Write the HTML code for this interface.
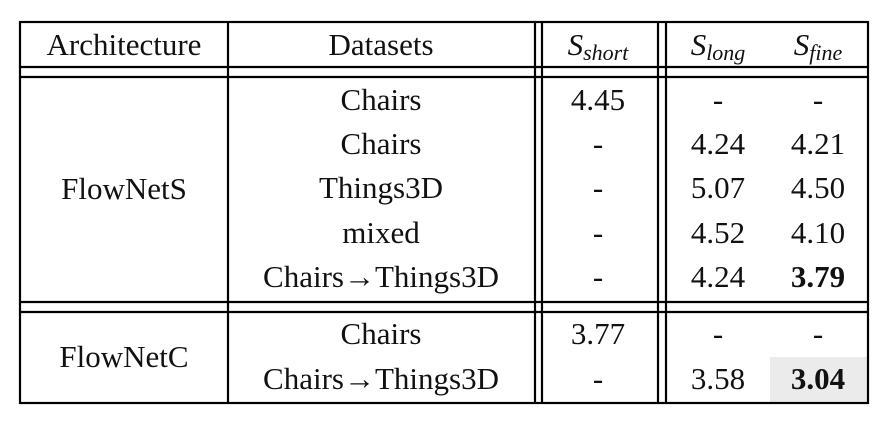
<!DOCTYPE html>
<html><head><meta charset="utf-8"><style>
html,body{margin:0;padding:0;background:#fff;}
text{font-family:"Liberation Serif","Times New Roman",Times,"Noto Serif CJK SC",serif;font-size:31px;fill:#111;}
</style></head><body>
<svg width="893" height="427" viewBox="0 0 893 427" xmlns="http://www.w3.org/2000/svg">
<rect x="770" y="357" width="98" height="46" fill="#ebebeb"/>
<g stroke="#000" stroke-width="2.2" fill="none">
<rect x="20" y="22" width="848" height="381"/>
<line x1="20" y1="67" x2="868" y2="67"/>
<line x1="20" y1="77" x2="868" y2="77"/>
<line x1="20" y1="302" x2="868" y2="302"/>
<line x1="20" y1="312" x2="868" y2="312"/>
<line x1="228" y1="22" x2="228" y2="403"/>
<line x1="535" y1="22" x2="535" y2="403"/>
<line x1="542" y1="22" x2="542" y2="403"/>
<line x1="658" y1="22" x2="658" y2="403"/>
<line x1="666" y1="22" x2="666" y2="403"/>
</g>
<g text-anchor="middle">
<text x="124" y="55">Architecture</text>
<text x="381" y="55">Datasets</text>
<text x="598" y="55" font-style="italic">S<tspan font-size="22" dy="5">short</tspan></text>
<text x="718" y="55" font-style="italic">S<tspan font-size="22" dy="5">long</tspan></text>
<text x="818" y="55" font-style="italic">S<tspan font-size="22" dy="5">fine</tspan></text>

<text x="124" y="199">FlowNetS</text>
<text x="381" y="110">Chairs</text>
<text x="381" y="154">Chairs</text>
<text x="381" y="198">Things3D</text>
<text x="381" y="243">mixed</text>
<text x="381" y="287">Chairs→Things3D</text>
<text x="598" y="110">4.45</text>
<text x="598" y="154">-</text>
<text x="598" y="198">-</text>
<text x="598" y="243">-</text>
<text x="598" y="287">-</text>
<text x="718" y="110">-</text>
<text x="718" y="154">4.24</text>
<text x="718" y="198">5.07</text>
<text x="718" y="243">4.52</text>
<text x="718" y="287">4.24</text>
<text x="818" y="110">-</text>
<text x="818" y="154">4.21</text>
<text x="818" y="198">4.50</text>
<text x="818" y="243">4.10</text>
<text x="818" y="287" font-weight="bold">3.79</text>

<text x="124" y="367">FlowNetC</text>
<text x="381" y="344">Chairs</text>
<text x="381" y="389">Chairs→Things3D</text>
<text x="598" y="344">3.77</text>
<text x="598" y="389">-</text>
<text x="718" y="344">-</text>
<text x="718" y="389">3.58</text>
<text x="818" y="344">-</text>
<text x="818" y="389" font-weight="bold">3.04</text>
</g>
</svg>
</body></html>
